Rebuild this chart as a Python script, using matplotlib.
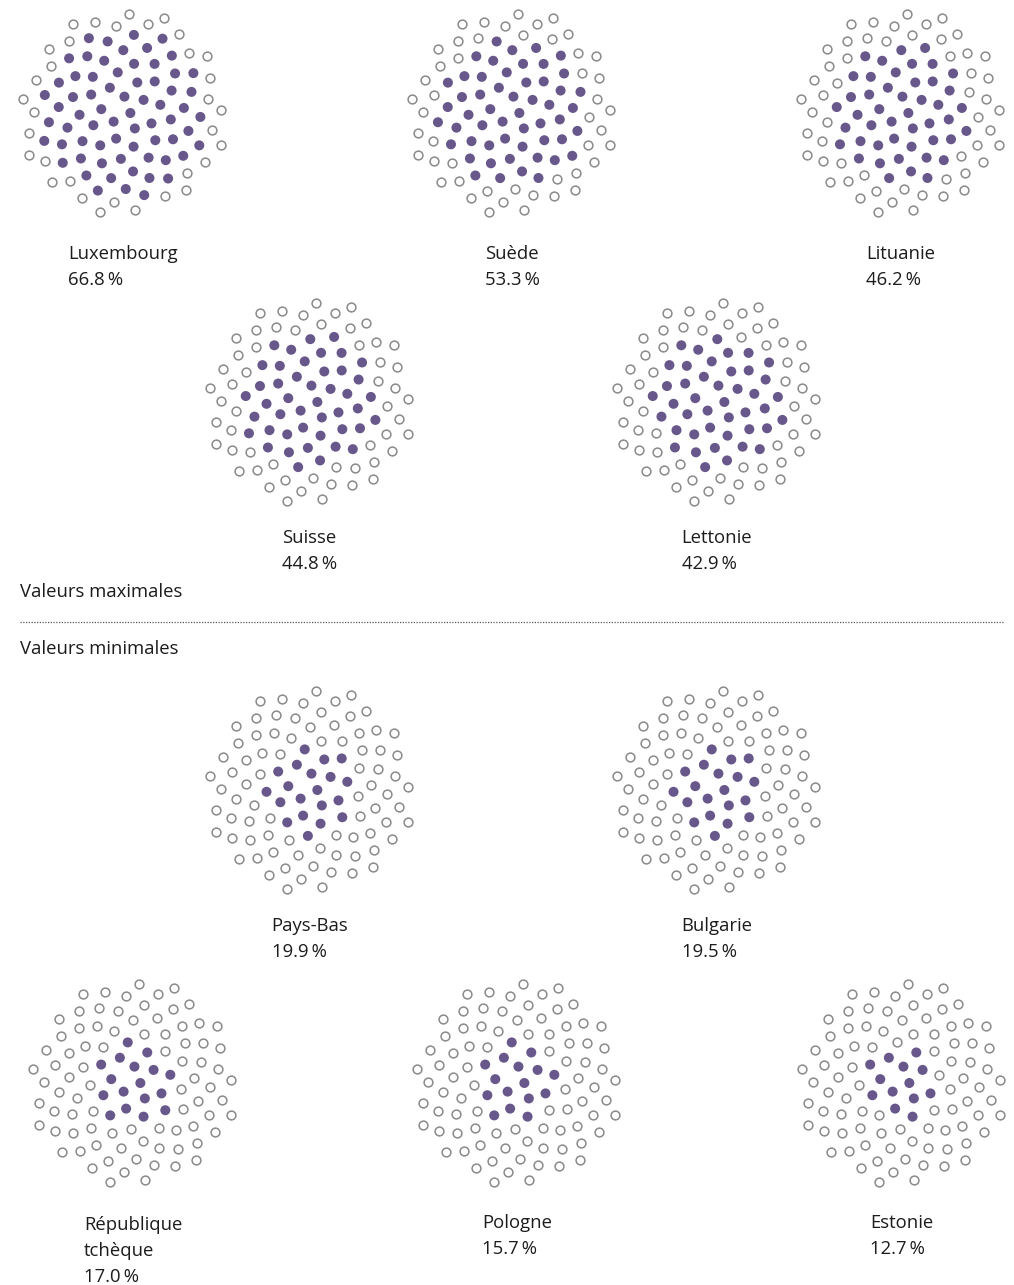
import numpy as np
import matplotlib.pyplot as plt

plt.rcParams['font.family'] = ['Open Sans', 'DejaVu Sans']

# share of each country, in percent (100 dots per country)
countries_max = ['Luxembourg', 'Suède', 'Lituanie', 'Suisse', 'Lettonie']
values_max = [66.8, 53.3, 46.2, 44.8, 42.9]
countries_min = ['Pays-Bas', 'Bulgarie', 'République\ntchèque', 'Pologne', 'Estonie']
values_min = [19.9, 19.5, 17.0, 15.7, 12.7]

n_dots = 100
purple = '#67578a'
grey = '#8a8a8a'

# cluster centres and label anchors in pixel units
centres = [(123, 113), (512, 113), (901, 113), (310, 402), (717, 402),
           (310, 790), (717, 790), (133, 1083), (517, 1083), (902, 1083)]
label_y = [252, 252, 252, 536, 536, 924, 924, 1223, 1221, 1221]


def sunflower(n, scale):
    idx = np.arange(n)
    golden = np.pi * (3 - np.sqrt(5))
    r = scale * np.sqrt(idx + 0.5)
    th = idx * golden
    return r * np.cos(th), r * np.sin(th)


fig = plt.figure(figsize=(10.14, 12.85), dpi=100)
ax = fig.add_axes([0, 0, 1, 1])
ax.set_xlim(0, 1014)
ax.set_ylim(1285, 0)
ax.axis('off')

names = countries_max + countries_min
vals = values_max + values_min
dx, dy = sunflower(n_dots, 10.4)

for (cx, cy), ly, name, v in zip(centres, label_y, names, vals):
    k = int(round(v))
    ax.scatter(cx + dx[k:], cy + dy[k:], s=40, facecolor='white',
               edgecolor=grey, linewidth=1.1, zorder=2)
    ax.scatter(cx + dx[:k], cy + dy[:k], s=52, color=purple,
               edgecolor='none', zorder=3)
    txt = name + '\n' + f'{v:.1f}\u2009%'
    ax.text(cx, ly - 7, txt, ha='center', va='top', multialignment='left',
            fontsize=13.3, color='#1c1c1c', linespacing=1.56)

ax.text(20, 592, 'Valeurs maximales', ha='left', va='center',
        fontsize=13.3, color='#1c1c1c')
ax.text(20, 649, 'Valeurs minimales', ha='left', va='center',
        fontsize=13.3, color='#1c1c1c')
ax.plot([20, 1004], [622, 622], color='#555555', linewidth=0.9,
        linestyle=(0, (1, 1.2)))

fig.savefig('out.png', dpi=100)
